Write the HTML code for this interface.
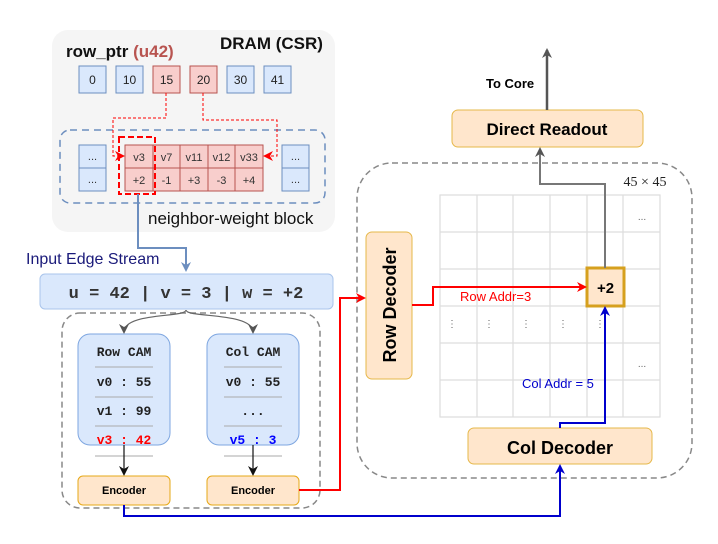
<!DOCTYPE html>
<html><head><meta charset="utf-8"><style>
html,body{margin:0;padding:0;background:#fff;}
svg{display:block;font-family:"Liberation Sans",sans-serif;}
.m{font-family:"Liberation Mono",monospace;font-weight:bold;}
</style></head><body>
<svg width="718" height="544" viewBox="0 0 718 544" xmlns="http://www.w3.org/2000/svg">
<defs>
<marker id="ag" markerWidth="10" markerHeight="10" refX="8" refY="5" orient="auto" markerUnits="userSpaceOnUse"><path d="M0,0 L10,5 L0,10 L3,5 z" fill="#555"/></marker>
<marker id="ab" markerWidth="10" markerHeight="10" refX="8" refY="5" orient="auto" markerUnits="userSpaceOnUse"><path d="M0,0 L10,5 L0,10 L3,5 z" fill="#6c8ebf"/></marker>
<marker id="ar" markerWidth="10" markerHeight="10" refX="8" refY="5" orient="auto" markerUnits="userSpaceOnUse"><path d="M0,0 L10,5 L0,10 L3,5 z" fill="#f00"/></marker>
<marker id="au" markerWidth="10" markerHeight="10" refX="8" refY="5" orient="auto" markerUnits="userSpaceOnUse"><path d="M0,0 L10,5 L0,10 L3,5 z" fill="#00c"/></marker>
<marker id="ak" markerWidth="10" markerHeight="10" refX="8" refY="5" orient="auto" markerUnits="userSpaceOnUse"><path d="M0,0 L10,5 L0,10 L3,5 z" fill="#111"/></marker>
</defs>
<rect x="52" y="30" width="283" height="202" rx="16" fill="#f5f5f5"/>
<text x="220" y="49" font-size="17" font-weight="bold" fill="#111">DRAM (CSR)</text>
<text x="66" y="57" font-size="17" font-weight="bold" fill="#111">row_ptr <tspan fill="#b85450">(u42)</tspan></text>
<g font-size="12" text-anchor="middle" fill="#222">
<rect x="79" y="66" width="27" height="27" fill="#dae8fc" stroke="#6c8ebf"/><text x="92.5" y="84">0</text>
<rect x="116" y="66" width="27" height="27" fill="#dae8fc" stroke="#6c8ebf"/><text x="129.5" y="84">10</text>
<rect x="153" y="66" width="27" height="27" fill="#f8cecc" stroke="#b85450"/><text x="166.5" y="84">15</text>
<rect x="190" y="66" width="27" height="27" fill="#f8cecc" stroke="#b85450"/><text x="203.5" y="84">20</text>
<rect x="227" y="66" width="27" height="27" fill="#dae8fc" stroke="#6c8ebf"/><text x="240.5" y="84">30</text>
<rect x="264" y="66" width="27" height="27" fill="#dae8fc" stroke="#6c8ebf"/><text x="277.5" y="84">41</text>
</g>
<rect x="60" y="130" width="265" height="73" rx="10" fill="none" stroke="#6c8ebf" stroke-width="1.5" stroke-dasharray="7,5"/>
<g font-size="11" text-anchor="middle" fill="#333">
<rect x="79" y="145" width="27" height="23" fill="#dae8fc" stroke="#6c8ebf"/><text x="92.5" y="160">...</text>
<rect x="79" y="168" width="27" height="23" fill="#dae8fc" stroke="#6c8ebf"/><text x="92.5" y="183">...</text>
<rect x="282" y="145" width="27" height="23" fill="#dae8fc" stroke="#6c8ebf"/><text x="295.5" y="160">...</text>
<rect x="282" y="168" width="27" height="23" fill="#dae8fc" stroke="#6c8ebf"/><text x="295.5" y="183">...</text>
<rect x="125" y="145" width="138" height="46" fill="#f8cecc" stroke="#b85450"/>
<path d="M153,145V191M180,145V191M208,145V191M235,145V191M125,168H263" stroke="#b85450"/>
<text x="139" y="161">v3</text><text x="166.5" y="161">v7</text><text x="194" y="161">v11</text><text x="221.5" y="161">v12</text><text x="249" y="161">v33</text>
<text x="139" y="184">+2</text><text x="166.5" y="184">-1</text><text x="194" y="184">+3</text><text x="221.5" y="184">-3</text><text x="249" y="184">+4</text>
</g>
<rect x="119" y="137" width="36" height="57" fill="none" stroke="#f00" stroke-width="2" stroke-dasharray="6,3"/>
<path d="M166,93V118H113V156H123" fill="none" stroke="#f00" stroke-width="1" stroke-dasharray="3,2" marker-end="url(#ar)"/>
<path d="M203,93V120H277V156H265" fill="none" stroke="#f00" stroke-width="1" stroke-dasharray="3,2" marker-end="url(#ar)"/>
<text x="148" y="224" font-size="17" fill="#111">neighbor-weight block</text>
<path d="M138,194V248H186V270" fill="none" stroke="#6c8ebf" stroke-width="2" marker-end="url(#ab)"/>
<text x="26" y="264" font-size="16" fill="#1a1a7a">Input Edge Stream</text>
<rect x="40" y="274" width="293" height="35" rx="5" fill="#dae8fc" stroke="#a9c4eb"/>
<text x="186" y="298" class="m" font-size="17" text-anchor="middle" fill="#333" xml:space="preserve">u = 42 | v = 3 | w = +2</text>
<rect x="62" y="313" width="258" height="195" rx="18" fill="none" stroke="#888" stroke-width="1.5" stroke-dasharray="6,4"/>
<path d="M186,310 C186,318 124,312 124,332" fill="none" stroke="#666" stroke-width="1.2" marker-end="url(#ag)"/>
<path d="M186,310 C186,318 253,312 253,332" fill="none" stroke="#666" stroke-width="1.2" marker-end="url(#ag)"/>
<rect x="78" y="334" width="92" height="111" rx="12" fill="#dae8fc" stroke="#7ea6e0"/>
<rect x="207" y="334" width="92" height="111" rx="12" fill="#dae8fc" stroke="#7ea6e0"/>
<g stroke="#aaa" stroke-width="1">
<path d="M95,367H153M95,397H153M95,426H153M95,456H153"/>
<path d="M224,367H282M224,397H282M224,426H282M224,456H282"/>
</g>
<g class="m" font-size="13" text-anchor="middle" fill="#222">
<text x="124" y="356">Row CAM</text><text x="124" y="386">v0 : 55</text><text x="124" y="415">v1 : 99</text><text x="124" y="444" fill="#f00">v3 : 42</text>
<text x="253" y="356">Col CAM</text><text x="253" y="386">v0 : 55</text><text x="253" y="415">...</text><text x="253" y="444" fill="#00f">v5 : 3</text>
</g>
<path d="M124,445V474" stroke="#111" stroke-width="1.2" marker-end="url(#ak)"/>
<path d="M253,445V474" stroke="#111" stroke-width="1.2" marker-end="url(#ak)"/>
<rect x="78" y="476" width="92" height="29" rx="5" fill="#ffe6cc" stroke="#e6a817"/>
<rect x="207" y="476" width="92" height="29" rx="5" fill="#ffe6cc" stroke="#e6a817"/>
<text x="124" y="494" font-size="11" font-weight="bold" text-anchor="middle">Encoder</text>
<text x="253" y="494" font-size="11" font-weight="bold" text-anchor="middle">Encoder</text>
<rect x="357" y="163" width="335" height="315" rx="35" fill="none" stroke="#888" stroke-width="1.5" stroke-dasharray="6,4"/>
<g stroke="#ddd" stroke-width="1.2" fill="none">
<rect x="440" y="195" width="220" height="222"/>
<path d="M477,195V417M513,195V417M550,195V417M587,195V417M623,195V417M440,232H660M440,269H660M440,306H660M440,343H660M440,380H660"/>
</g>
<g font-size="10" fill="#666" text-anchor="middle">
<text x="642" y="220">...</text><text x="642" y="367">...</text>
<text x="452" y="327">⋮</text><text x="489" y="327">⋮</text><text x="526" y="327">⋮</text><text x="563" y="327">⋮</text><text x="600" y="327">⋮</text>
</g>
<text x="645" y="186" font-size="14" font-family="Liberation Serif,serif" text-anchor="middle" fill="#222">45 × 45</text>
<rect x="587" y="268" width="37" height="38" fill="#ffe6cc" stroke="#d6a01e" stroke-width="3"/>
<text x="605.5" y="293" font-size="15" font-weight="bold" text-anchor="middle">+2</text>
<rect x="366" y="232" width="46" height="147" rx="6" fill="#ffe6cc" stroke="#e6b84a"/>
<text transform="translate(396,305) rotate(-90)" font-size="18" font-weight="bold" text-anchor="middle">Row Decoder</text>
<rect x="468" y="428" width="184" height="36" rx="6" fill="#ffe6cc" stroke="#e6b84a"/>
<text x="560" y="454" font-size="18" font-weight="bold" text-anchor="middle">Col Decoder</text>
<rect x="452" y="110" width="191" height="37" rx="6" fill="#ffe6cc" stroke="#e6b84a"/>
<text x="547" y="135" font-size="17" font-weight="bold" text-anchor="middle">Direct Readout</text>
<path d="M547,110V50" stroke="#555" stroke-width="2.5" marker-end="url(#ag)"/>
<text x="486" y="88" font-size="13" font-weight="bold">To Core</text>
<path d="M605,268V184H540V149" fill="none" stroke="#777" stroke-width="2" marker-end="url(#ag)"/>
<path d="M412,305H433V287H585" fill="none" stroke="#f00" stroke-width="2" marker-end="url(#ar)"/>
<text x="460" y="301" font-size="13" fill="#f00">Row Addr=3</text>
<path d="M560,428V423H605V308" fill="none" stroke="#00c" stroke-width="2" marker-end="url(#au)"/>
<text x="522" y="388" font-size="13" fill="#00c">Col Addr = 5</text>
<path d="M299,490H340V298H364" fill="none" stroke="#f00" stroke-width="2" marker-end="url(#ar)"/>
<path d="M124,505V516H560V466" fill="none" stroke="#00c" stroke-width="2" marker-end="url(#au)"/>
</svg>
</body></html>
